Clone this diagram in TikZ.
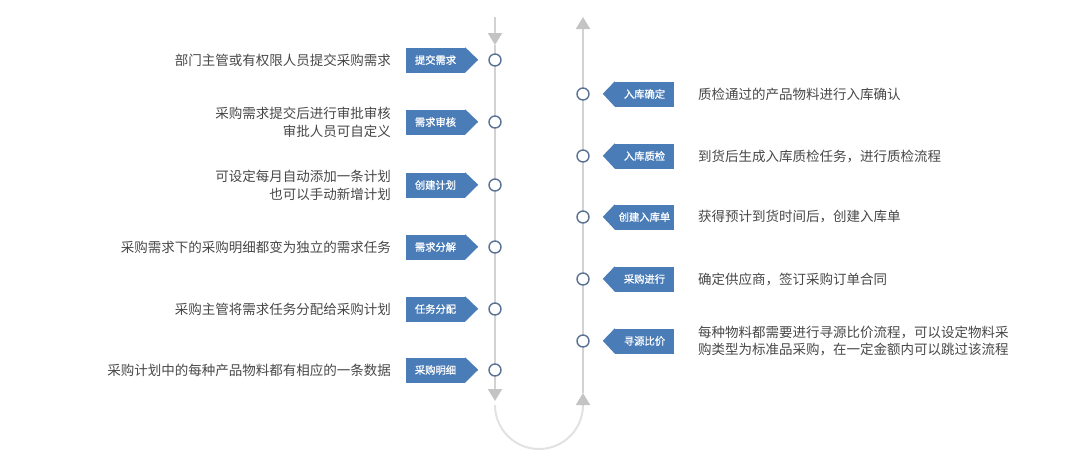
\documentclass[tikz,border=0pt]{standalone}
\usepackage{fontspec}
\setmainfont{Noto Sans CJK SC}
\newfontfamily\tagfont{Noto Sans CJK SC}[FakeBold=0.8]
\usetikzlibrary{arrows.meta}
\definecolor{tagblue}{HTML}{4A7CB8}
\definecolor{ringc}{HTML}{5A7394}
\definecolor{linec}{HTML}{D2D2D2}
\definecolor{arrc}{HTML}{C4C4C4}
\definecolor{arcc}{HTML}{E2E2E2}
\definecolor{txtc}{HTML}{474747}
\begin{document}
\begin{tikzpicture}[x=1pt,y=-1pt,
  ring/.style={circle,draw=ringc,fill=white,line width=1.4pt,minimum size=12pt,inner sep=0pt},
  tagbox/.style={fill=tagblue,text=white,minimum width=59pt,minimum height=25pt,inner sep=0pt,font=\tagfont\fontsize{10.3}{12}\selectfont},
  desc/.style={text=txtc,font=\fontsize{13.5}{18}\selectfont,inner sep=0pt,align=right},
  descr/.style={text=txtc,font=\fontsize{13.5}{17}\selectfont,inner sep=0pt,align=left,anchor=west},
  track/.style={draw=linec,line width=2pt},
  tip/.style={-{Triangle[width=14pt,length=12pt,color=arrc]}}
]
\useasboundingbox (0,0) rectangle (1080,467);
% coordinates of the track
\coordinate (lt) at (495,17);
\coordinate (la) at (495,45);
\coordinate (lb) at (495,388);
\coordinate (lbt) at (495,401);
\coordinate (ls) at (495,405);
\coordinate (rs) at (583,405);
\coordinate (rb) at (583,405);
\coordinate (rbt) at (583,393);
\coordinate (ra) at (583,40);
\coordinate (rt) at (583,17);
% left track
\draw[track] (la) -- (lb);
\draw[track,tip] (lt) -- (la);
\draw[track,tip] (lb) -- (lbt);
% bottom arc
\draw[draw=arcc,line width=2pt] (ls) arc[start angle=180,end angle=0,radius=44];
% right track
\draw[track,tip] (rb) -- (rbt);
\draw[track] (rbt) -- (ra);
\draw[track,tip] (ra) -- (rt);

% left steps
\foreach \i/\y/\tag/\txt in {
  1/60/提交需求/部门主管或有权限人员提交采购需求,
  2/122/需求审核/{采购需求提交后进行审批审核\\审批人员可自定义},
  3/185/创建计划/{可设定每月自动添加一条计划\\也可以手动新增计划},
  4/247/需求分解/采购需求下的采购明细都变为独立的需求任务,
  5/309/任务分配/采购主管将需求任务分配给采购计划,
  6/370/采购明细/采购计划中的每种产品物料都有相应的一条数据}{
  \node[ring] (L\i) at (495,\y) {};
  \node[tagbox] (T\i) at (435.5,\y) {\tag};
  \fill[tagblue] (T\i.north east) -- ++(13,12.5) -- (T\i.south east) -- cycle;
  \node[desc,anchor=east] (D\i) at (391,\y) {\txt};
}
% right steps
\foreach \i/\y/\tag/\txt in {
  1/94/入库确定/质检通过的产品物料进行入库确认,
  2/156/入库质检/到货后生成入库质检任务，进行质检流程,
  3/217/创建入库单/获得预计到货时间后，创建入库单,
  4/279/采购进行/确定供应商，签订采购订单合同,
  5/341/寻源比价/{每种物料都需要进行寻源比价流程，可以设定物料采\\购类型为标准品采购，在一定金额内可以跳过该流程}}{
  \node[ring] (R\i) at (583,\y) {};
  \node[tagbox] (S\i) at (644.5,\y) {\tag};
  \fill[tagblue] (S\i.north west) -- ++(-12,12.5) -- (S\i.south west) -- cycle;
  \node[descr] (E\i) at (698,\y) {\txt};
}
\end{tikzpicture}
\end{document}
